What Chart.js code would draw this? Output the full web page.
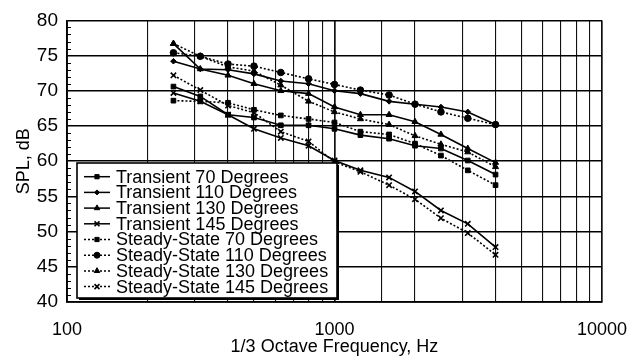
<!DOCTYPE html>
<html>
<head>
<meta charset="utf-8">
<script src="https://cdn.jsdelivr.net/npm/chart.js@4.4.1/dist/chart.umd.min.js"></script>
<style>
  html, body { margin: 0; padding: 0; background: #fff; }
  #wrap { width: 644px; height: 358px; }
</style>
</head>
<body>
<div id="wrap"><canvas id="splChart" width="644" height="358"></canvas></div>
<script>
// 1/3 octave band centres, Hz
const freqs = [250, 315, 400, 500, 630, 800, 1000, 1250, 1600, 2000, 2500, 3150, 4000];

// SPL, dB
const transient70  = [70.6, 69.2, 66.6, 66.2, 65.1, 65.1, 64.6, 63.7, 63.2, 62.2, 61.8, 60.1, 58.1];
const transient110 = [74.2, 73.1, 73.0, 72.4, 71.4, 71.0, 70.0, 69.6, 68.5, 68.1, 67.7, 67.0, 65.2];
const transient130 = [76.7, 73.1, 72.2, 71.0, 70.0, 69.6, 67.7, 66.6, 66.6, 65.6, 63.8, 61.8, 59.8];
const transient145 = [69.7, 68.5, 66.6, 64.6, 63.3, 62.2, 60.1, 58.7, 57.7, 55.7, 53.0, 51.1, 47.8];
const steady70  = [68.6, 68.5, 68.3, 67.3, 66.5, 66.0, 65.5, 64.2, 63.8, 62.5, 60.8, 58.7, 56.6];
const steady110 = [75.4, 74.9, 73.8, 73.5, 72.6, 71.7, 70.9, 70.1, 69.4, 68.1, 67.0, 66.1, 65.2];
const steady130 = [76.7, 74.9, 73.4, 72.8, 70.8, 68.5, 67.0, 66.0, 65.2, 63.6, 62.4, 61.3, 59.2];
const steady145 = [72.2, 70.1, 67.9, 66.9, 64.2, 62.8, 59.9, 58.5, 56.6, 54.6, 51.9, 49.8, 46.7];

const seriesNames = [
  "Transient 70 Degrees", "Transient 110 Degrees", "Transient 130 Degrees", "Transient 145 Degrees",
  "Steady-State 70 Degrees", "Steady-State 110 Degrees", "Steady-State 130 Degrees", "Steady-State 145 Degrees"
];
const seriesValues = [transient70, transient110, transient130, transient145,
                      steady70, steady110, steady130, steady145];
const markers = ["rect", "rectRot", "triangle", "crossRot", "rect", "circle", "triangle", "crossRot"];
const markerSize = [3.3, 2.8, 3.5, 3.8, 3.3, 3.3, 3.5, 3.8];

const yTicks = [40, 45, 50, 55, 60, 65, 70, 75, 80];

Chart.defaults.font.family = "'Liberation Sans', Arial, sans-serif";
Chart.defaults.color = "#000";

const datasets = seriesNames.map((name, i) => ({
  label: name,
  data: freqs.map((f, j) => ({ x: f, y: seriesValues[i][j] })),
  borderColor: "#000",
  backgroundColor: "#000",
  borderWidth: 1.6,
  borderDash: i < 4 ? [] : [2, 2],
  pointStyle: markers[i],
  pointRadius: markerSize[i],
  pointBorderWidth: markers[i] === "crossRot" ? 1.6 : 1,
  tension: 0,
  fill: false,
}));

// legend drawn as a boxed inset in the lower left of the plot
const boxLegend = {
  id: "boxLegend",
  afterDatasetsDraw(chart) {
    const ctx = chart.ctx;
    const area = chart.chartArea;
    const x0 = area.left + 10, y0 = 163, w = 260, h = 135;
    ctx.save();
    ctx.fillStyle = "#000";
    ctx.fillRect(x0 + 2, y0 + 2, w, h);
    ctx.fillStyle = "#fff";
    ctx.fillRect(x0, y0, w, h);
    ctx.lineWidth = 1.6;
    ctx.strokeStyle = "#000";
    ctx.strokeRect(x0, y0, w, h);

    ctx.font = "18px 'Liberation Sans', Arial, sans-serif";
    ctx.textBaseline = "middle";
    chart.data.datasets.forEach((ds, i) => {
      const y = y0 + 13.7 + i * 15.7;
      ctx.strokeStyle = "#000";
      ctx.lineWidth = 1.5;
      ctx.setLineDash(ds.borderDash);
      ctx.beginPath();
      ctx.moveTo(x0 + 7, y);
      ctx.lineTo(x0 + 33, y);
      ctx.stroke();
      ctx.setLineDash([]);
      ctx.fillStyle = "#000";
      ctx.lineWidth = ds.pointBorderWidth;
      Chart.helpers.drawPoint(ctx, { pointStyle: ds.pointStyle, radius: ds.pointRadius - 0.3, rotation: 0, borderWidth: ds.pointBorderWidth }, x0 + 20, y);
      ctx.fillText(ds.label, x0 + 39, y + 1);
    });
    ctx.restore();
  }
};

// 1 dB minor ticks along the left axis
const minorTicks = {
  id: "minorTicks",
  afterDraw(chart) {
    const ctx = chart.ctx;
    const y = chart.scales.y;
    const left = chart.chartArea.left;
    ctx.save();
    ctx.strokeStyle = "#000";
    ctx.lineWidth = 1;
    for (let v = 41; v < 80; v++) {
      if (v % 5 === 0) continue;
      const py = Math.round(y.getPixelForValue(v)) + 0.5;
      ctx.beginPath();
      ctx.moveTo(left, py);
      ctx.lineTo(left + 4, py);
      ctx.stroke();
    }
    ctx.restore();
  }
};

new Chart(document.getElementById("splChart"), {
  type: "line",
  data: { datasets },
  plugins: [boxLegend, minorTicks],
  options: {
    responsive: false,
    animation: false,
    layout: { padding: { left: 0, top: 18, right: 27, bottom: 0 } },
    plugins: {
      legend: { display: false },
      tooltip: { enabled: false },
    },
    scales: {
      x: {
        type: "logarithmic",
        min: 100,
        max: 10000,
        afterFit(scale) { scale.height = 56; },
        grid: {
          color: "#111",
          lineWidth: (c) => {
            const v = c.tick ? c.tick.value : 0;
            return [100, 1000, 10000].includes(v) ? 1.7 : 1.1;
          },
          drawTicks: false,
        },
        border: { color: "#000", width: 1.8 },
        ticks: {
          autoSkip: false,
          maxRotation: 0,
          padding: 17,
          font: { size: 18 },
          callback: (v) => ([100, 1000, 10000].includes(v) ? String(v) : ""),
        },
        title: {
          display: true,
          text: "1/3 Octave Frequency, Hz",
          font: { size: 18 },
          padding: { top: 0, bottom: 0 },
        },
      },
      y: {
        min: 40,
        max: 80,
        afterFit(scale) { scale.width = 67; },
        afterBuildTicks(scale) { scale.ticks = yTicks.map((v) => ({ value: v })); },
        grid: { color: "#000", lineWidth: 1.6, drawTicks: false },
        border: { color: "#000", width: 1.8 },
        ticks: { padding: 9, font: { size: 19 } },
        title: {
          display: true,
          text: "SPL, dB",
          font: { size: 18 },
          padding: { top: 13, bottom: 0 },
        },
      },
    },
  },
});
</script>
</body>
</html>
